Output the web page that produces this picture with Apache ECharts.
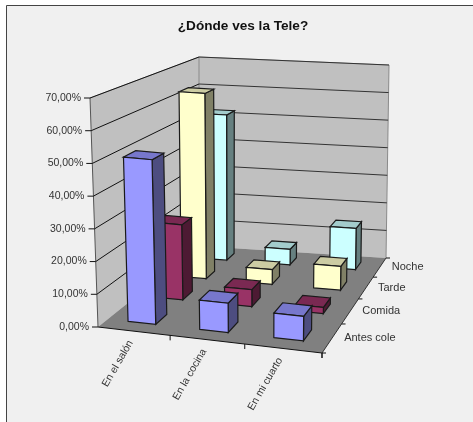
<!DOCTYPE html>
<html><head><meta charset="utf-8">
<style>html,body{margin:0;padding:0;background:#fff}#c{width:473px;height:422px}</style>
<script src="https://cdn.jsdelivr.net/npm/echarts@6/dist/echarts.min.js"></script>
</head><body><div id="c"></div>
<script>
const categories = ['En el salón', 'En la cocina', 'En mi cuarto'];
const rows = ['Antes cole', 'Comida', 'Tarde', 'Noche'];
const antesCole = [0.51, 0.09, 0.075];
const comida = [0.245, 0.055, 0.02];
const tarde = [0.635, 0.05, 0.08];
const noche = [0.52, 0.055, 0.145];
const yTicks = [0, 0.1, 0.2, 0.3, 0.4, 0.5, 0.6, 0.7];
const yTickLabels = ['0,00%', '10,00%', '20,00%', '30,00%', '40,00%', '50,00%', '60,00%', '70,00%'];
const title = '¿Dónde ves la Tele?';
const rowValues = [antesCole, comida, tarde, noche];
const faceColors = [
  {front:'#9999FF', top:'#7777CC', side:'#4D4D80'},
  {front:'#993366', top:'#7A2952', side:'#4D1A33'},
  {front:'#FFFFCC', top:'#CCCCA3', side:'#808066'},
  {front:'#CCFFFF', top:'#A3CCCC', side:'#668080'}
];
// projection frame of the 3D box: [bottom, top] screen corners
const frame = {
  fl: [[98,327],[90,98]], fr: [[322,353],[325,120]],
  bl: [[199,246],[199,57]], br: [[386,258],[389,65]]
};
const warp = (t,k) => t*k/(1-t+t*k);
const lerp = (a,b,t) => a+(b-a)*t;
function project(u, h, d) {
  const uu = warp(u, 0.95), dd = warp(d, 1.32), out = [];
  for (let i=0;i<2;i++) {
    const f = lerp(frame.fl[0][i],frame.fl[1][i],h), r = lerp(frame.fr[0][i],frame.fr[1][i],h);
    const b = lerp(frame.bl[0][i],frame.bl[1][i],h), s = lerp(frame.br[0][i],frame.br[1][i],h);
    out.push(lerp(lerp(f,r,uu), lerp(b,s,uu), dd));
  }
  return out;
}
const unit = (params, api, cat, val) => {
  const cs = params.coordSys, p = api.coord([cat, val]);
  return [(p[0]-cs.x)/cs.width, (cs.y+cs.height-p[1])/cs.height];
};
const poly = (points, fill, stroke, lw) => ({type:'polygon', shape:{points}, style:{fill, stroke:stroke||'none', lineWidth:lw||0}});
const line = (a,b,stroke,lw) => ({type:'line', shape:{x1:a[0],y1:a[1],x2:b[0],y2:b[1]}, style:{stroke, lineWidth:lw||1}});
const txt = (x,y,text,align,rot,size) => ({type:'text', x, y, rotation:rot||0, style:{text, align, verticalAlign:'middle', fill:'#333', font:(size||10.5)+'px "Liberation Sans", Arial, sans-serif'}});

function renderShell() {
  const P = project;
  return {type:'group', children:[
    poly([P(0,0,0),P(0,1,0),P(0,1,1),P(0,0,1)], '#C0C0C0'),
    poly([P(0,0,1),P(0,1,1),P(1,1,1),P(1,0,1)], '#C0C0C0'),
    poly([P(0,0,0),P(1,0,0),P(1,0,1),P(0,0,1)], '#808080'),
    line(P(0,1,0),P(0,1,1),'#999',1), line(P(0,1,1),P(1,1,1),'#A0A0A0',1),
    line(P(0,1,1),P(0,0,1),'#8A8A8A',1), line(P(1,1,1),P(1,0,1),'#8A8A8A',1),
    line(P(0,0,0),P(0,1,0),'#555',1)
  ]};
}
function renderYTick(params, api) {
  const h = unit(params, api, 0, api.value(1))[1];
  const a = project(0,h,0), b = project(0,h,1), c = project(1,h,1);
  const kids = [];
  if (params.dataIndex > 0) kids.push(line(a,b,'#111',1), line(b,c,'#333',1));
  kids.push(line([a[0]-6,a[1]],a,'#111',1));
  kids.push(txt(a[0]-9, a[1], yTickLabels[params.dataIndex], 'right'));
  return {type:'group', children:kids};
}
function renderXTick(params, api) {
  const u = unit(params, api, api.value(0), 0)[0], a = project(u,0,0);
  const band = api.size([1,0])[0]/params.coordSys.width;
  const t = project(u+band/2,0,0);
  const kids = [line(t,[t[0],t[1]+5],'#111',1), txt(a[0]-3, a[1]+10, categories[params.dataIndex], 'right', Math.PI/3)];
  return {type:'group', children:kids};
}
function renderDepth() {
  const kids = [line(project(0,0,0),project(1,0,0),'#111',1), line(project(1,0,0),project(1,0,1),'#333',1)];
  rows.forEach((name,i)=>{
    const e = project(1,0,i/rows.length), m = project(1,0,(i+0.5)/rows.length);
    kids.push(line(e,[e[0]+4,e[1]],'#111',1));
    kids.push(txt(m[0]+12, m[1], name, 'left', 0, 11));
  });
  const e = project(1,0,1); kids.push(line(e,[e[0]+4,e[1]],'#111',1));
  const f = project(1,0,0); kids.push(line(f,[f[0],f[1]+5],'#111',1));
  return {type:'group', children:kids};
}
const barFrac = 0.39;
const barShift = -0.006;
function barRenderer(rowIdx) {
  return function(params, api) {
    const [u,h] = unit(params, api, api.value(0), api.value(1));
    const band = api.size([1,0])[0]/params.coordSys.width;
    const u0 = u+barShift-band*barFrac/2, u1 = u+barShift+band*barFrac/2;
    const dc = (rowIdx+0.5)/rows.length, dw = barFrac/rows.length/2;
    const d0 = dc-dw, d1 = dc+dw, P = project, col = faceColors[rowIdx];
    const st = '#1a1a1a';
    return {type:'group', children:[
      poly([P(u1,0,d0),P(u1,h,d0),P(u1,h,d1),P(u1,0,d1)], col.side, st, 1.2),
      poly([P(u0,h,d0),P(u1,h,d0),P(u1,h,d1),P(u0,h,d1)], col.top, st, 1.2),
      poly([P(u0,0,d0),P(u1,0,d0),P(u1,h,d0),P(u0,h,d0)], col.front, st, 1.2)
    ]};
  };
}
const base = {type:'custom', coordinateSystem:'cartesian2d', silent:true, animation:false, clip:false};
const series = [
  {...base, z:2, name:'shell', data:[[0,0]], renderItem:renderShell},
  {...base, z:3, name:'yTicks', data:yTicks.map(v=>[0,v]), encode:{x:0,y:1}, renderItem:renderYTick},
  {...base, z:3, name:'xTicks', data:categories.map((c,i)=>[i,0]), encode:{x:0,y:1}, renderItem:renderXTick},
  {...base, z:3, name:'depth', data:[[0,0]], renderItem:renderDepth}
];
for (let r=rows.length-1;r>=0;r--) {
  series.push({...base, z:10+(rows.length-r), name:rows[r],
    data:rowValues[r].map((v,i)=>[i,v]), encode:{x:0,y:1}, renderItem:barRenderer(r)});
}
const chart = echarts.init(document.getElementById('c'), null, {renderer:'canvas'});
chart.setOption({
  animation:false,
  backgroundColor:'#fff',
  title:{text:title, left:238, top:14, textAlign:'center',
    textStyle:{fontFamily:'"Liberation Sans", Arial, sans-serif', fontSize:13.6, fontWeight:'bold', color:'#111'}},
  graphic:[{type:'rect', silent:true, shape:{x:6.5,y:5.5,width:520,height:480}, style:{fill:'#F0F0F0', stroke:'#444', lineWidth:1}}],
  grid:{left:0, right:0, top:0, bottom:0, show:false},
  xAxis:{type:'category', data:categories, show:false},
  yAxis:{type:'value', min:0, max:0.7, interval:0.1, show:false},
  series
});
</script></body></html>
